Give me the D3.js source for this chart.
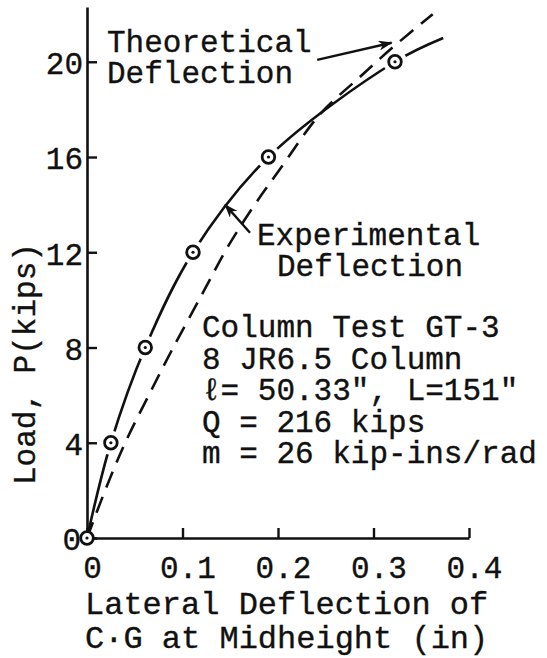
<!DOCTYPE html>
<html>
<head>
<meta charset="utf-8">
<script src="https://cdn.jsdelivr.net/npm/d3@7/dist/d3.min.js"></script>
<style>
  html, body { margin: 0; padding: 0; background: #fff; }
  svg { display: block; }
  text { font-family: "Liberation Mono", "Courier New", monospace; fill: #111; stroke: #111; stroke-width: 0.35px; }
</style>
</head>
<body>
<svg id="chart" width="547" height="658"></svg>
<script>
// ---- data ----
const expDeflection = [0, 0.025, 0.061, 0.111, 0.190, 0.3225];
const expLoad       = [0, 4, 8, 12, 16, 20];
const expCurveDeflection = [0, 0.025, 0.061, 0.111, 0.190, 0.3225, 0.373];
const expCurveLoad       = [0, 4, 8, 12, 16, 20, 21.0];
const theoDeflection = [0, 0.019, 0.040, 0.066, 0.089, 0.120, 0.147, 0.174, 0.204, 0.244, 0.284, 0.320, 0.362];
const theoLoad       = [0, 2.0, 4.0, 6.1, 7.9, 10.2, 12.2, 13.9, 15.6, 17.8, 19.3, 20.6, 22.0];
const xTicks = [0, 0.1, 0.2, 0.3, 0.4];
const xTickLabels = ["0", "0.1", "0.2", "0.3", "0.4"];
const yTicks = [0, 4, 8, 12, 16, 20];
const yTickLabels = ["0", "4", "8", "12", "16", "20"];
const xTitle = ["Lateral Deflection of", "C\u00b7G at Midheight (in)"];
const yTitle = "Load, P(kips)";
const infoLines = ["Column Test GT-3", "8 JR6.5 Column", "\u2113= 50.33\", L=151\"", "Q = 216 kips", "m = 26 kip-ins/rad"];
const theoLabel = ["Theoretical", "Deflection"];
const expLabel = ["Experimental", "Deflection"];
// arrow endpoints in data units [deflection, load]
const theoArrow = [[0.241, 20.08], [0.319, 20.8]];
const expArrow  = [[0.1707, 12.82], [0.1445, 14.0]];

// ---- scales ----
const svg = d3.select("#chart");
const x = d3.scaleLinear().domain([0, 0.4]).range([87, 469]);
const y = d3.scaleLinear().domain([0, 22.3]).range([538, 7]);
const FS = 31;

const defs = svg.append("defs");
defs.append("marker").attr("id", "ah")
  .attr("viewBox", "0 0 14 10").attr("refX", 13).attr("refY", 5)
  .attr("markerWidth", 14).attr("markerHeight", 10)
  .attr("markerUnits", "userSpaceOnUse").attr("orient", "auto")
  .append("path").attr("d", "M0,0 L14,5 L0,10 L4,5 Z").attr("fill", "#111");

const mask = defs.append("mask").attr("id", "gapmask").attr("maskUnits", "userSpaceOnUse")
  .attr("x", 0).attr("y", 0).attr("width", 547).attr("height", 658);
mask.append("rect").attr("width", 547).attr("height", 658).attr("fill", "#fff");
mask.selectAll("circle").data(d3.range(1, expLoad.length)).join("circle")
  .attr("cx", i => x(expDeflection[i])).attr("cy", i => y(expLoad[i]))
  .attr("r", 12).attr("fill", "#000");

// ---- axes ----
const xAxis = svg.append("g").attr("transform", `translate(0,${y(0)})`)
  .call(d3.axisBottom(x).tickValues(xTicks).tickFormat((d, i) => xTickLabels[i]).tickSize(-10).tickSizeOuter(0));
const yAxis = svg.append("g").attr("transform", `translate(${x(0)},0)`)
  .call(d3.axisLeft(y).tickValues(yTicks).tickFormat((d, i) => yTickLabels[i]).tickSize(-10).tickSizeOuter(0));
[xAxis, yAxis].forEach(g => {
  g.select(".domain").attr("stroke", "#111").attr("stroke-width", 2.6);
  g.selectAll(".tick line").attr("stroke", "#111").attr("stroke-width", 2.4);
  g.selectAll(".tick text").attr("font-size", FS).attr("font-family", null);
});
xAxis.selectAll(".tick text").attr("y", 40).attr("dy", null).attr("dx", 5);
yAxis.selectAll(".tick text").attr("x", -4).attr("dy", "0.38em");
yAxis.select(".tick text").attr("x", -6);

// ---- curves ----
const line = d3.line().x(d => x(d[0])).y(d => y(d[1])).curve(d3.curveCatmullRom.alpha(0.5));
svg.append("path")
  .datum(theoDeflection.map((d, i) => [d, theoLoad[i]]))
  .attr("d", line).attr("fill", "none").attr("stroke", "#111")
  .attr("stroke-width", 2.6).attr("stroke-dasharray", "17,10");
svg.append("path")
  .datum(expCurveDeflection.map((d, i) => [d, expCurveLoad[i]]))
  .attr("d", line).attr("fill", "none").attr("stroke", "#111")
  .attr("stroke-width", 2.6).attr("mask", "url(#gapmask)");

// ---- points ----
const pts = svg.append("g").selectAll("g").data(d3.range(expLoad.length)).join("g")
  .attr("transform", i => `translate(${x(expDeflection[i])},${y(expLoad[i])})`);
pts.append("circle").attr("r", 6.3).attr("fill", "#fff").attr("stroke", "#111").attr("stroke-width", 2.8);
pts.append("circle").attr("r", 1.6).attr("fill", "#111");

// ---- arrows ----
[theoArrow, expArrow].forEach(a => {
  svg.append("line")
    .attr("x1", x(a[0][0])).attr("y1", y(a[0][1]))
    .attr("x2", x(a[1][0])).attr("y2", y(a[1][1]))
    .attr("stroke", "#111").attr("stroke-width", 2.4).attr("marker-end", "url(#ah)");
});

// ---- text ----
function block(lines, x0, y0, dy, fs, dxs) {
  lines.forEach((t, i) => {
    svg.append("text").attr("x", x0 + (dxs ? dxs[i] : 0)).attr("y", y0 + i * dy)
      .attr("font-size", fs).text(t);
  });
}
block(theoLabel, 107, 52, 31, FS);
block(expLabel, 257, 245, 31, FS, [0, 20]);
block(infoLines, 202, 337, 31.5, FS);
block(xTitle, 85, 614, 34, 32);

svg.append("text").attr("transform", "translate(35,485) rotate(-90)")
  .attr("font-size", FS).text(yTitle);
</script>
</body>
</html>
